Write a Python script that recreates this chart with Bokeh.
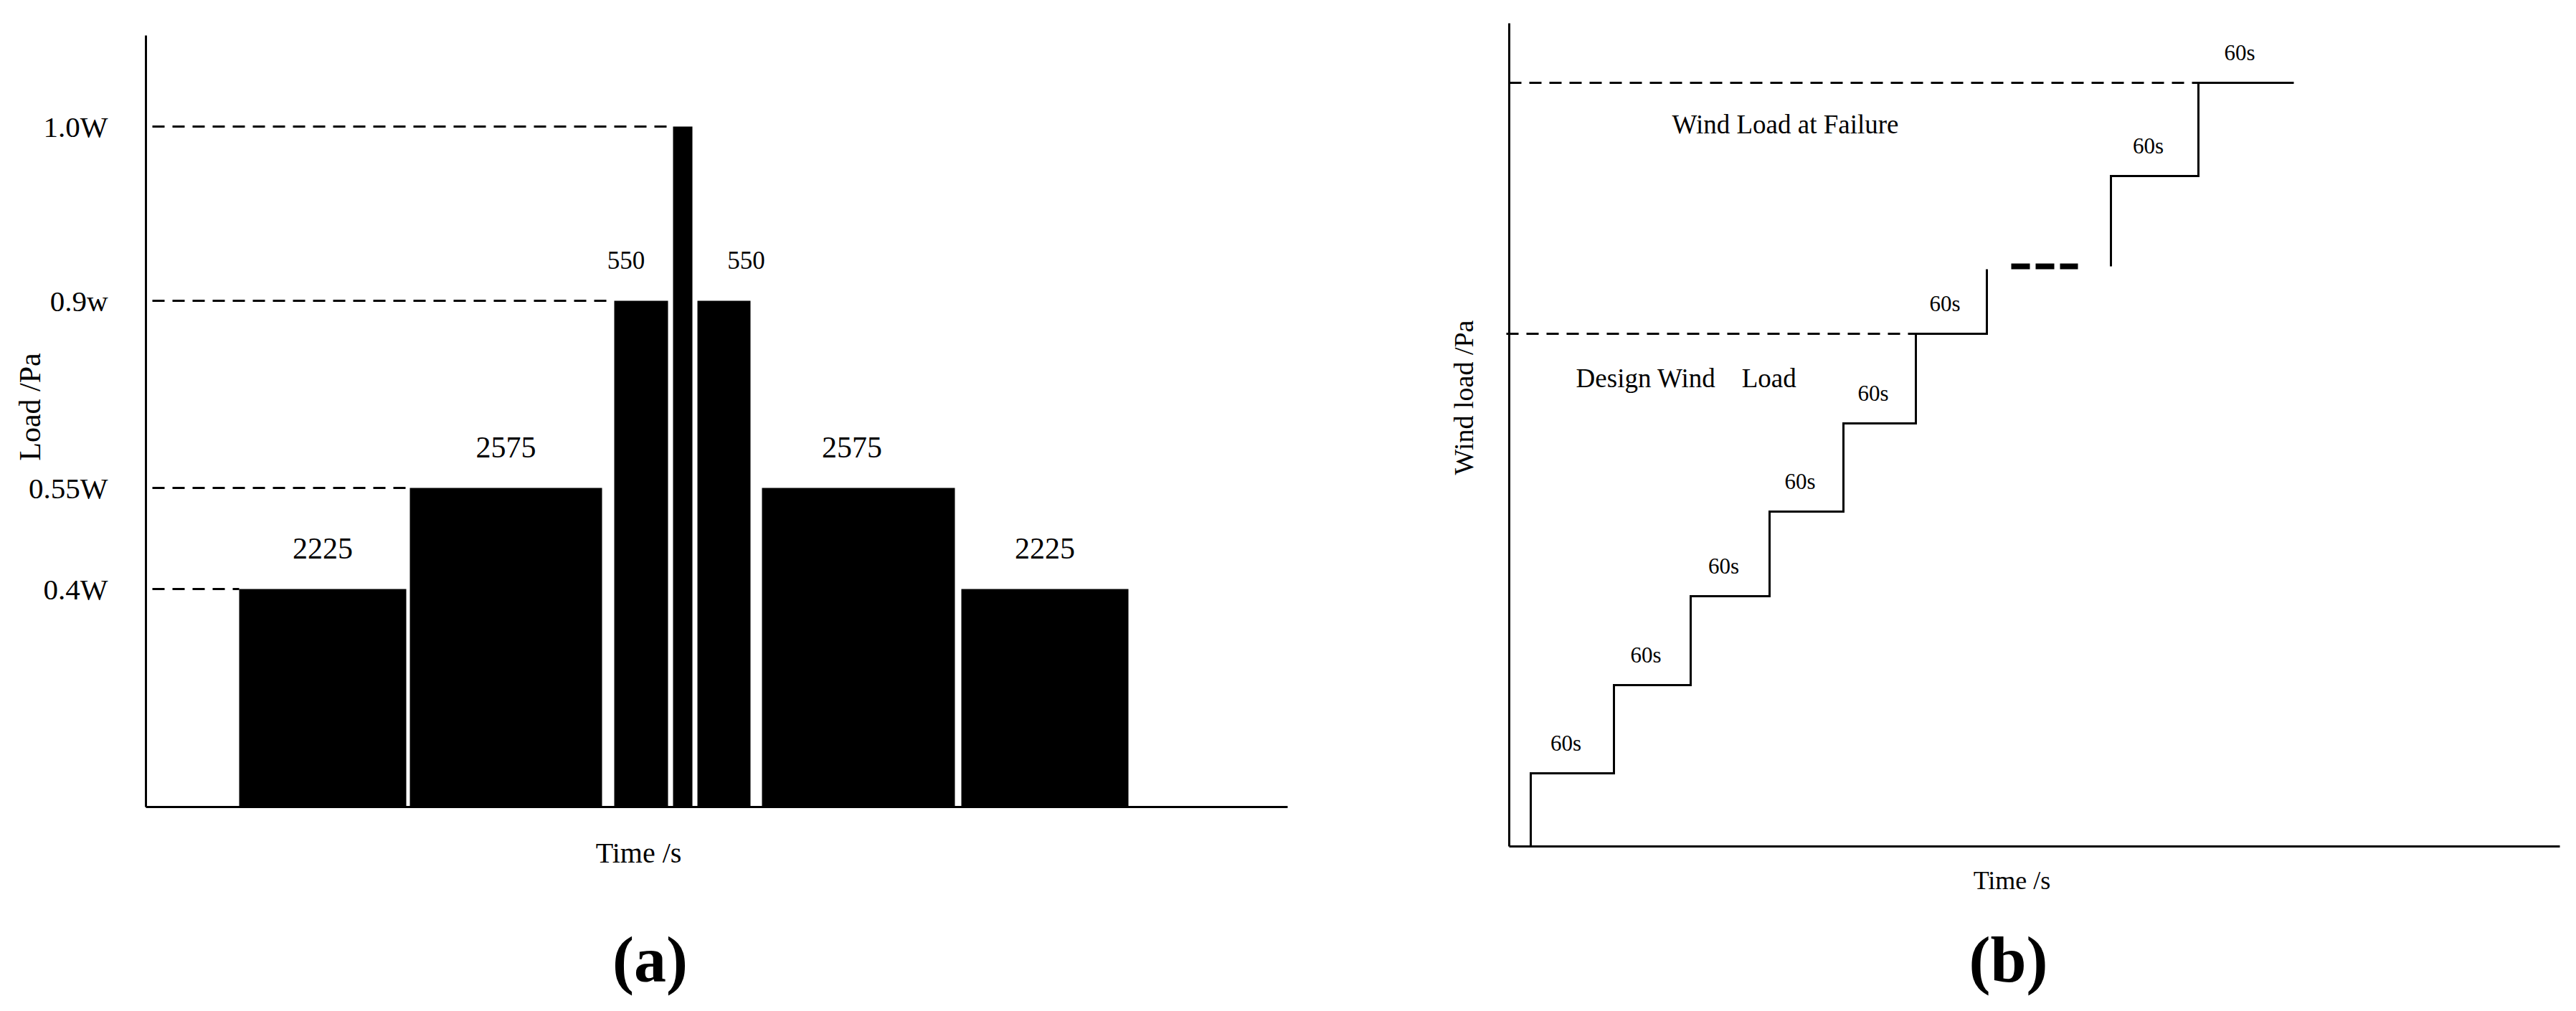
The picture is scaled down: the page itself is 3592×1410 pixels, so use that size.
import math
from bokeh.plotting import figure
from bokeh.layouts import row
from bokeh.models import Range1d, Label, FixedTicker, ColumnDataSource
from bokeh.embed import file_html
from bokeh.resources import INLINE
from bokeh.core.properties import value

FONT = "Liberation Serif"

# ---------------- Panel (a): cyclic load sequence (schematic units) ----------------
a_start = [1.30, 3.68, 6.53, 7.35, 7.69, 8.59, 11.37]
a_end = [3.63, 6.36, 7.28, 7.62, 8.43, 11.28, 13.70]
a_level = [3.04, 4.45, 7.06, 9.49, 7.06, 4.45, 3.04]
a_text = ["2225", "2575", "550", "", "550", "2575", "2225"]
a_level_ticks = [3.04, 4.45, 7.06, 9.49]
a_level_names = ["0.4W", "0.55W", "0.9w", "1.0W"]
a_axis_len = (15.92, 10.76)

# ---------------- Panel (b): stepwise wind load (schematic units) ----------------
b_rise_lower = [0.30, 1.46, 2.53, 3.63, 4.66, 5.67, 6.66]
b_level_lower = [1.02, 2.25, 3.49, 4.67, 5.90, 7.15, 8.05]
b_rise_upper = [8.39, 9.61]
b_start_upper = 8.09
b_level_upper = [9.35, 10.65]
b_end_upper = 10.94
b_gap = [7.00, 7.93]
b_step_text = "60s"
b_design_level = 7.15
b_failure_level = 10.65
b_axis_len = (14.65, 11.48)


def make_fig(width, height, xr, yr, axis_len):
    p = figure(width=width, height=height, x_range=Range1d(*xr), y_range=Range1d(*yr),
               output_backend="svg", toolbar_location=None,
               min_border_left=0, min_border_right=0, min_border_top=0, min_border_bottom=0)
    p.grid.visible = False
    p.outline_line_color = None
    p.background_fill_color = "white"
    p.border_fill_color = "white"
    p.xaxis.fixed_location = 0
    p.yaxis.fixed_location = 0
    p.xaxis.bounds = (0, axis_len[0])
    p.yaxis.bounds = (0, axis_len[1])
    for ax in (p.xaxis, p.yaxis):
        ax.axis_line_width = 3
        ax.axis_line_color = "black"
        ax.major_tick_line_color = None
        ax.minor_tick_line_color = None
        ax.major_tick_out = 0
        ax.major_tick_in = 0
    p.xaxis.ticker = FixedTicker(ticks=[])
    p.xaxis.major_label_text_color = None
    return p


def add_label(p, x, y, text, size, bold=False, angle=0.0):
    p.add_layout(Label(x=x, y=y, text=text, text_font=FONT, text_font_size=size,
                       text_font_style="bold" if bold else "normal", text_color="black",
                       text_align="center", text_baseline="middle", angle=angle))


# ---- figure (a): page x 0..1908, axis origin at page (203, 1125)
pa = make_fig(1908, 1400, (-2.03, 17.05), (-2.75, 11.25), a_axis_len)
pa.yaxis.ticker = FixedTicker(ticks=a_level_ticks)
pa.yaxis.major_label_overrides = {v: n for v, n in zip(a_level_ticks, a_level_names)}
pa.yaxis.major_label_text_font = FONT
pa.yaxis.major_label_text_font_size = "41px"
pa.yaxis.major_label_text_color = "black"
pa.yaxis.major_label_standoff = 53

src_a = ColumnDataSource(dict(
    left=a_start, right=a_end, top=a_level, bottom=[0] * len(a_start),
    tx=[(l + r) / 2 for l, r in zip(a_start, a_end)],
    ty=[lv + 0.57 for lv in a_level],
    text=a_text,
    dx=[0, 0, -21, 0, 31, -9, 0],
    fs=["35px" if len(t) == 3 else "42px" for t in a_text],
))
pa.quad(left="left", right="right", top="top", bottom="bottom", source=src_a,
        fill_color="black", line_color=None)
pa.text(x="tx", y="ty", text="text", x_offset="dx", text_font_size="fs", source=src_a,
        text_font=value(FONT), text_color="black", text_align="center", text_baseline="middle")

# dashed guides from the axis to the first bar reaching each level
g_end = [a_start[a_level.index(lv)] for lv in a_level_ticks]
pa.segment(x0=[0.09] * len(a_level_ticks), y0=a_level_ticks, x1=g_end, y1=a_level_ticks,
           line_color="black", line_width=3, line_dash="17 11")

add_label(pa, -1.62, 5.58, "Load /Pa", "42px", angle=math.pi / 2)
add_label(pa, 6.87, -0.64, "Time /s", "40px")
add_label(pa, 7.03, -2.13, "(a)", "90px", bold=True)

# ---- figure (b): page x 1908..3582, axis origin at page (2104, 1180)
pb = make_fig(1674, 1400, (-1.96, 14.78), (-2.20, 11.80), b_axis_len)
pb.yaxis.ticker = FixedTicker(ticks=[])
pb.yaxis.major_label_text_color = None

# lower staircase
lx, ly = [b_rise_lower[0]], [0.0]
for i, t in enumerate(b_rise_lower):
    if i > 0:
        lx.append(t)
        ly.append(b_level_lower[i - 1])
    lx.append(t)
    ly.append(b_level_lower[i])
pb.line(lx, ly, line_color="black", line_width=3, line_join="miter")

# upper staircase
ux, uy = [b_rise_upper[0]], [b_start_upper]
for i, t in enumerate(b_rise_upper):
    if i > 0:
        ux.append(t)
        uy.append(b_level_upper[i - 1])
    ux.append(t)
    uy.append(b_level_upper[i])
ux.append(b_end_upper)
uy.append(b_level_upper[-1])
pb.line(ux, uy, line_color="black", line_width=3, line_join="miter")

# ellipsis dashes
pb.line(b_gap, [b_start_upper, b_start_upper], line_color="black", line_width=8, line_dash="26 8")

# reference dashed lines
pb.segment(x0=[-0.04, 0.0], y0=[b_design_level, b_failure_level],
           x1=[b_rise_lower[b_level_lower.index(b_design_level)],
               b_rise_upper[b_level_upper.index(b_failure_level)]],
           y1=[b_design_level, b_failure_level],
           line_color="black", line_width=3, line_dash="17 11")

# "60s" labels above each plateau
px_, py_ = [], []
for i in range(len(b_rise_lower) - 1):
    px_.append((b_rise_lower[i] + b_rise_lower[i + 1]) / 2 - 0.09)
    py_.append(b_level_lower[i] + 0.42)
ends = b_rise_upper[1:] + [b_end_upper]
for i, t in enumerate(b_rise_upper):
    px_.append((t + ends[i]) / 2 - 0.09)
    py_.append(b_level_upper[i] + 0.42)
pb.text(x=px_, y=py_, text=[b_step_text] * len(px_), text_font=value(FONT),
        text_font_size="31px", text_color="black", text_align="center", text_baseline="middle")

add_label(pb, 3.85, 10.07, "Wind Load at Failure", "37px")
add_label(pb, 2.47, 6.53, "Design Wind\u00a0\u00a0\u00a0\u00a0Load", "37px")
add_label(pb, -0.64, 6.26, "Wind load /Pa", "38px", angle=math.pi / 2)
add_label(pb, 7.01, -0.47, "Time /s", "36px")
add_label(pb, 6.96, -1.58, "(b)", "90px", bold=True)

layout = row(pa, pb)
open("out.html", "w").write(file_html(layout, INLINE))
